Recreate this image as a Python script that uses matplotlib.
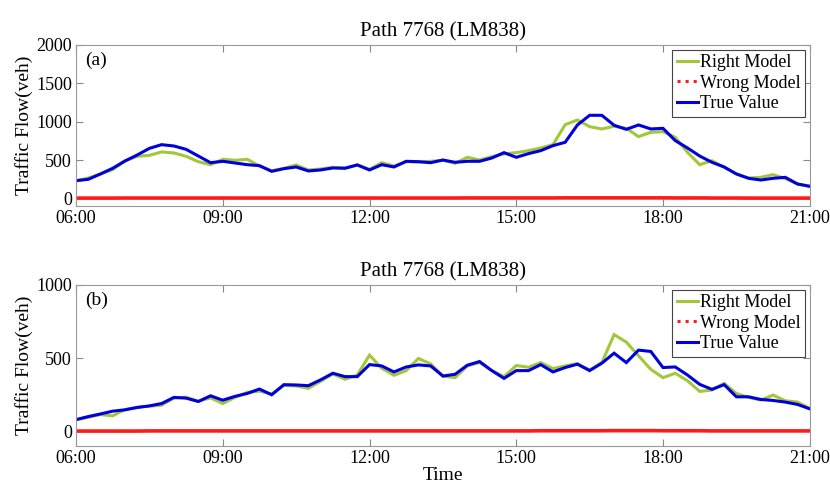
import matplotlib
matplotlib.use("Agg")
import matplotlib.pyplot as plt
from matplotlib.lines import Line2D
import numpy as np

plt.rcParams['font.family'] = ['Liberation Serif', 'DejaVu Serif']
plt.rcParams['mathtext.fontset'] = 'stix'

title = "Path 7768 (LM838)"
tick_labels = ["06:00", "09:00", "12:00", "15:00", "18:00", "21:00"]
tick_hours = [6, 9, 12, 15, 18, 21]
# 15-minute steps from 06:00 to 21:00 (61 samples)
hours = [6 + 0.25 * i for i in range(61)]

a_true = [230, 248, 318, 392, 487, 565, 652, 700, 683, 639, 552, 465, 483, 461, 439, 426,
          352, 387, 409, 357, 370, 396, 392, 435, 370, 439, 409, 483, 478, 465, 500, 470,
          483, 483, 526, 596, 535, 583, 622, 687, 731, 957, 1083, 1083, 953, 900, 957, 905,
          913, 753, 657, 552, 470, 409, 318, 261, 239, 261, 274, 187, 157]
a_right = [230, 265, 318, 374, 487, 548, 561, 605, 592, 548, 478, 439, 509, 496, 509, 422,
           361, 391, 435, 370, 383, 405, 396, 439, 378, 465, 422, 478, 474, 483, 496, 457,
           535, 500, 544, 579, 596, 622, 657, 700, 961, 1022, 935, 905, 940, 913, 805, 861,
           870, 796, 600, 439, 491, 405, 318, 265, 274, 309, 257, 187, 157]
a_wrong = [3, 3, 3, 3, 4, 4, 4, 4, 4, 4, 4, 4, 4, 4, 4, 4,
           4, 4, 4, 4, 4, 4, 4, 4, 4, 4, 4, 4, 4, 4, 4, 4,
           5, 5, 5, 5, 5, 5, 5, 5, 6, 6, 6, 6, 6, 6, 6, 6,
           6, 5, 5, 5, 4, 4, 4, 3, 3, 3, 3, 3, 3]

b_true = [80, 101, 119, 138, 147, 163, 174, 190, 232, 227, 204, 243, 213, 239, 259, 289,
          250, 319, 317, 312, 352, 397, 374, 374, 456, 447, 406, 440, 454, 447, 378, 390,
          452, 477, 415, 362, 415, 415, 456, 406, 436, 459, 415, 466, 534, 470, 555, 546,
          436, 440, 385, 321, 287, 319, 236, 236, 218, 211, 200, 184, 154]
b_right = [80, 96, 115, 106, 149, 165, 172, 179, 227, 234, 206, 229, 190, 232, 266, 275,
           255, 314, 310, 294, 342, 392, 356, 385, 521, 431, 383, 415, 498, 461, 378, 367,
           447, 470, 415, 374, 450, 438, 470, 429, 447, 463, 420, 470, 661, 610, 516, 424,
           367, 397, 346, 273, 282, 328, 259, 232, 213, 248, 209, 200, 156]
b_wrong = [2, 2, 2, 2, 2, 2, 3, 3, 3, 3, 3, 3, 3, 3, 3, 3,
           3, 3, 3, 3, 3, 3, 3, 3, 3, 3, 3, 3, 3, 3, 3, 3,
           3, 3, 3, 3, 3, 3, 4, 4, 4, 4, 4, 4, 5, 5, 5, 5,
           4, 4, 4, 4, 3, 3, 3, 3, 3, 3, 3, 3, 3]

green = '#a4c639'
blue = '#0000dd'
red = '#ff1a1a'

fig = plt.figure(figsize=(8.3, 4.87), dpi=100)
ax_a = fig.add_axes([0.0916, 0.577, 0.884, 0.3306])
ax_b = fig.add_axes([0.0916, 0.0842, 0.884, 0.3306])

panels = [
    (ax_a, a_right, a_wrong, a_true, (-100, 2000), [0, 500, 1000, 1500, 2000], "(a)"),
    (ax_b, b_right, b_wrong, b_true, (-100, 1000), [0, 500, 1000], "(b)"),
]

for ax, right, wrong, true, ylim, yticks, lab in panels:
    ax.plot(hours, right, color=green, lw=2.2, solid_joinstyle='miter')
    ax.plot(hours, wrong, color=red, lw=2.6)
    ax.plot(hours, true, color=blue, lw=2.2, solid_joinstyle='miter')
    ax.set_xlim(6, 21)
    ax.set_ylim(*ylim)
    ax.set_xticks(tick_hours)
    ax.set_xticklabels(tick_labels)
    ax.set_yticks(yticks)
    ax.tick_params(direction='in', top=True, right=True, labelsize=13,
                   length=5, color='#888888', pad=3)
    for s in ax.spines.values():
        s.set_color('#999999')
        s.set_linewidth(0.8)
    ax.set_ylabel("Traffic Flow(veh)", fontsize=14, labelpad=2)
    ax.set_title(title, fontsize=15, pad=6)
    ax.text(0.012, 0.96, lab, transform=ax.transAxes, fontsize=14, va='top', ha='left')
    handles = [
        Line2D([], [], color=green, lw=2.2),
        Line2D([], [], color=red, lw=2.2, linestyle=':'),
        Line2D([], [], color=blue, lw=2.2),
    ]
    leg = ax.legend(handles, ["Right Model", "Wrong Model", "True Value"],
                    loc='upper right', fontsize=13, fancybox=False, framealpha=1,
                    edgecolor='#444444', handlelength=1.2, handletextpad=0.1,
                    borderpad=0.25, labelspacing=0.2, borderaxespad=0.25)
    leg.get_frame().set_linewidth(0.8)

ax_b.set_xlabel("Time", fontsize=14, labelpad=0)

fig.savefig("out.png", dpi=100)
